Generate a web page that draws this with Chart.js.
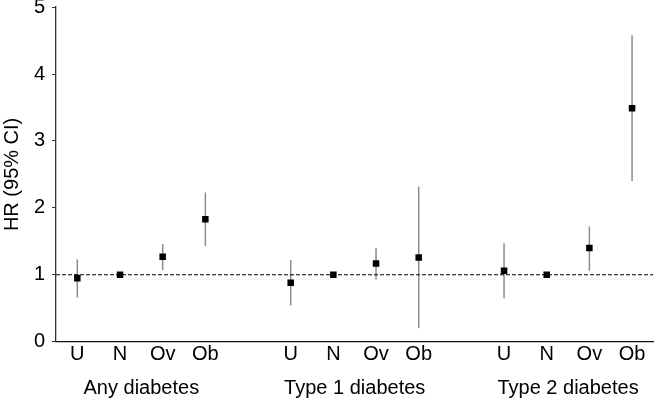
<!DOCTYPE html>
<html>
<head>
<meta charset="utf-8">
<script src="https://cdn.jsdelivr.net/npm/chart.js@4"></script>
<style>
  html, body { margin: 0; padding: 0; background: #fff; }
  #wrap { width: 658px; height: 400px; position: relative; }
</style>
</head>
<body>
<div id="wrap"><canvas id="hrChart"></canvas></div>
<script>
// categories inside each group, and the groups
const categories = ["U", "N", "Ov", "Ob"];
const groups = ["Any diabetes", "Type 1 diabetes", "Type 2 diabetes"];

// hazard ratios with 95% CI, one array per group (U, N, Ov, Ob)
const anyHR = [0.95, 1.0, 1.27, 1.83];
const anyLow = [0.66, null, 1.07, 1.43];
const anyHigh = [1.23, null, 1.46, 2.23];

const type1HR = [0.88, 1.0, 1.17, 1.26];
const type1Low = [0.54, null, 0.93, 0.2];
const type1High = [1.22, null, 1.4, 2.32];

const type2HR = [1.06, 1.0, 1.4, 3.49];
const type2Low = [0.65, null, 1.06, 2.4];
const type2High = [1.47, null, 1.72, 4.58];

const yTicks = [0, 1, 2, 3, 4, 5];
const refLine = 1;

const hrSets = [anyHR, type1HR, type2HR];
const lowSets = [anyLow, type1Low, type2Low];
const highSets = [anyHigh, type1High, type2High];

// x position of a category: 4 slots per group plus one empty slot between groups
const xPos = (g, i) => g * (categories.length + 1) + i;

const points = [];
const ciSegments = [];
const tickPositions = [];
hrSets.forEach((hr, g) => {
  hr.forEach((v, i) => {
    const x = xPos(g, i);
    tickPositions.push(x);
    points.push({ x: x, y: v });
    if (lowSets[g][i] != null) {
      ciSegments.push({ x: x, y: lowSets[g][i] });
      ciSegments.push({ x: x, y: highSets[g][i] });
      ciSegments.push({ x: x, y: null });
    }
  });
});
const groupCenters = groups.map((_, g) => xPos(g, (categories.length - 1) / 2));

const xMin = -0.5;
const xMax = xPos(groups.length - 1, categories.length - 1) + 0.5;

const font = { family: "'Liberation Sans', Arial, sans-serif", size: 20 };

new Chart(document.getElementById("hrChart"), {
  type: "scatter",
  data: {
    datasets: [
      {
        label: "HR",
        data: points,
        pointStyle: "rect",
        pointRadius: 4.6,
        backgroundColor: "#000",
        borderColor: "#000",
        borderWidth: 0,
      },
      {
        label: "Reference",
        data: [{ x: xMin, y: refLine }, { x: xMax, y: refLine }],
        showLine: true,
        borderColor: "#000",
        borderWidth: 1,
        borderDash: [4, 2],
        pointRadius: 0,
      },
      {
        label: "95% CI",
        data: ciSegments,
        showLine: true,
        spanGaps: false,
        borderColor: "#8c8c8c",
        borderWidth: 1.5,
        pointRadius: 0,
      },
    ],
  },
  options: {
    responsive: true,
    maintainAspectRatio: false,
    animation: false,
    layout: { padding: 0 },
    plugins: {
      legend: { display: false },
      tooltip: { enabled: false },
    },
    scales: {
      x: {
        type: "linear",
        position: "bottom",
        min: xMin,
        max: xMax,
        afterBuildTicks: (scale) => {
          scale.ticks = tickPositions.map((v) => ({ value: v }));
        },
        afterFit: (scale) => {
          scale.height = 30;
        },
        ticks: {
          font: font,
          color: "#000",
          padding: 1,
          maxRotation: 0,
          autoSkip: false,
          callback: (value) => categories[tickPositions.indexOf(value) % categories.length],
        },
        grid: { display: false, drawTicks: false },
        border: { display: true, color: "#111", width: 1.3 },
      },
      groupAxis: {
        type: "linear",
        position: "bottom",
        axis: "x",
        min: xMin,
        max: xMax,
        afterBuildTicks: (scale) => {
          scale.ticks = groupCenters.map((v) => ({ value: v }));
        },
        afterFit: (scale) => {
          scale.height = 28.3;
        },
        ticks: {
          font: font,
          color: "#000",
          padding: 5,
          maxRotation: 0,
          autoSkip: false,
          callback: (value) => groups[groupCenters.indexOf(value)],
        },
        grid: { display: false, drawTicks: false },
        border: { display: false },
      },
      y: {
        min: 0,
        max: 5,
        afterBuildTicks: (scale) => {
          scale.ticks = yTicks.map((v) => ({ value: v }));
        },
        afterFit: (scale) => {
          scale.width = 56;
        },
        ticks: {
          // tiny line height so the top label may touch the canvas edge, as in the source
          font: { ...font, lineHeight: 0.01 },
          color: "#000",
          padding: 7,
        },
        grid: {
          drawOnChartArea: false,
          drawTicks: true,
          tickLength: 4,
          tickColor: "#333",
        },
        border: { display: true, color: "#333", width: 1.3 },
        title: {
          display: true,
          text: "HR (95% CI)",
          font: font,
          color: "#000",
          padding: 0,
        },
      },
    },
  },
});
</script>
</body>
</html>
